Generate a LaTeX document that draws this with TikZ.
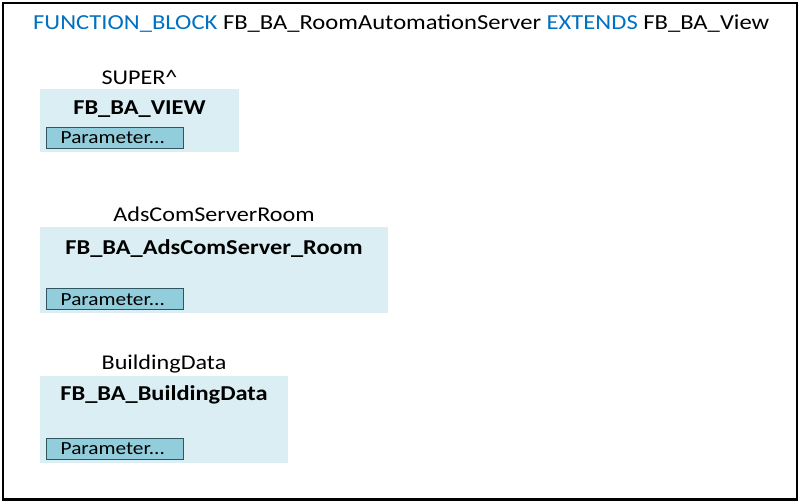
\documentclass[tikz,border=0pt]{standalone}
\usepackage{fontspec}
\setmainfont{Carlito}[FakeStretch=1.15]
\definecolor{kw}{HTML}{0070C0}
\definecolor{boxfill}{HTML}{DAEEF3}
\definecolor{parfill}{HTML}{92CDDC}
\definecolor{pardraw}{HTML}{31555F}
\begin{document}
\begin{tikzpicture}[x=1pt,y=-1pt,
  fbbox/.style={draw=none,fill=boxfill,anchor=north west,inner sep=0},
  parbox/.style={draw=pardraw,line width=0.8pt,fill=parfill,anchor=north west,inner sep=0,minimum width=137,minimum height=21},
  partext/.style={anchor=base west,inner sep=0,font=\fontsize{18.5}{22}\selectfont},
  lbl/.style={anchor=base,inner sep=0,font=\fontsize{21}{25}\selectfont},
  ttl/.style={anchor=base,inner sep=0,font=\fontsize{21.2}{25}\selectfont\bfseries}]
\useasboundingbox (0,0) rectangle (800,502);
\draw[line width=2.5pt] (3,3) rectangle (797,499.5);
\node[anchor=base west,inner sep=0,font=\fontsize{21.4}{26}\selectfont] (hdr) at (33,30)
  {{\color{kw}FUNCTION\_BLOCK} FB\_BA\_RoomAutomationServer {\color{kw}EXTENDS} FB\_BA\_View};
% block 1
\node[fbbox,minimum width=199,minimum height=63] (b1) at (40,89) {};
\node[lbl] (l1) at (139.5,85) {SUPER\textasciicircum};
\node[ttl] (t1) at (139.5,115) {FB\_BA\_VIEW};
\node[parbox] (p1) at (46,127) {};
\node[partext] (pt1) at (60.5,144) {Parameter...};
% block 2
\node[fbbox,minimum width=348,minimum height=86] (b2) at (40,227) {};
\node[lbl] (l2) at (214,222) {AdsComServerRoom};
\node[ttl] (t2) at (214,255) {FB\_BA\_AdsComServer\_Room};
\node[parbox] (p2) at (46,288.5) {};
\node[partext] (pt2) at (60.5,305.5) {Parameter...};
% block 3
\node[fbbox,minimum width=248,minimum height=87] (b3) at (40,376) {};
\node[lbl] (l3) at (164,370) {BuildingData};
\node[ttl] (t3) at (164,400) {FB\_BA\_BuildingData};
\node[parbox] (p3) at (46,437.5) {};
\node[partext] (pt3) at (60.5,454.5) {Parameter...};
\end{tikzpicture}
\end{document}
